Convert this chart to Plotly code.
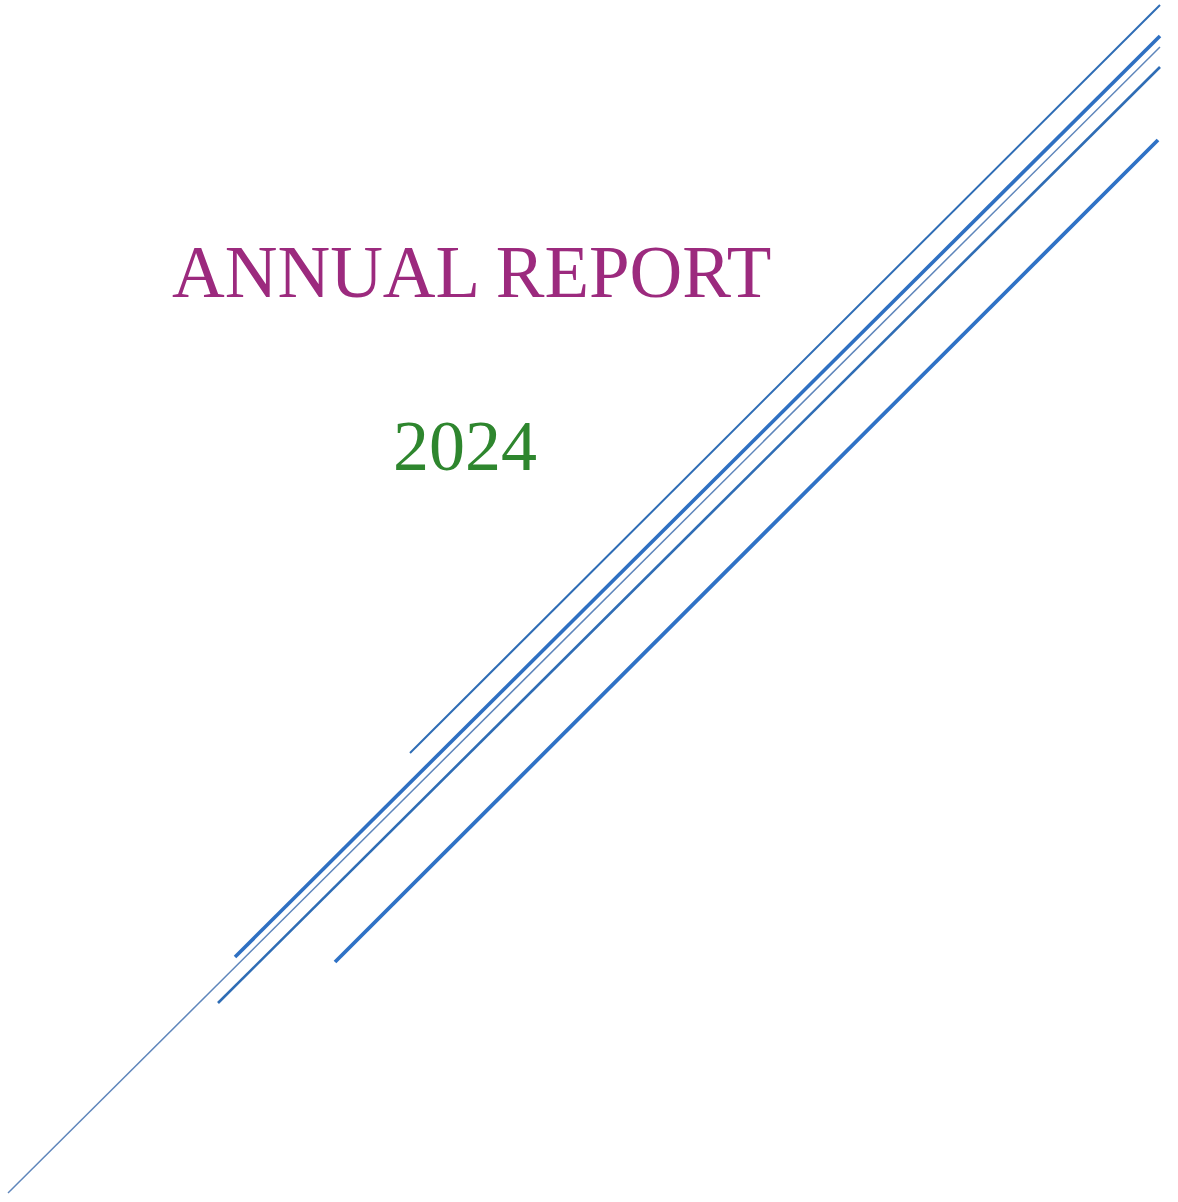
import plotly.graph_objects as go

# Diagonal rule lines (page pixel coordinates, y downward)
line_names = ["rule1", "rule2", "rule3", "rule4", "rule5"]
line_x0 = [410, 235, 8, 218, 335]
line_y0 = [753, 957, 1193, 1003, 962]
line_x1 = [1160, 1160, 1160, 1160, 1158]
line_y1 = [5, 36, 47, 67, 140]
line_widths = [2.0, 3.6, 1.5, 2.6, 3.8]
line_colors = ["#2f6db5", "#2f70c2", "#5f86bb", "#2f6db5", "#2f72c6"]

title_text = "ANNUAL REPORT"
year_text = "2024"

W, H = 1178, 1202

fig = go.Figure()
for i, name in enumerate(line_names):
    fig.add_trace(go.Scatter(
        x=[line_x0[i], line_x1[i]], y=[line_y0[i], line_y1[i]],
        mode="lines", name=name,
        line=dict(color=line_colors[i], width=line_widths[i]),
        hoverinfo="skip", showlegend=False,
    ))

fig.add_annotation(x=471, y=272, xref="x", yref="y", text=title_text,
                   showarrow=False, xanchor="center", yanchor="middle",
                   font=dict(family="Liberation Serif", size=73, color="#9c2a7e"))
fig.add_annotation(x=465, y=446, xref="x", yref="y", text=year_text,
                   showarrow=False, xanchor="center", yanchor="middle",
                   font=dict(family="Liberation Serif", size=72, color="#2e862e"))

fig.update_xaxes(range=[0, W], visible=False, showgrid=False, zeroline=False)
fig.update_yaxes(range=[H, 0], visible=False, showgrid=False, zeroline=False)
fig.update_layout(width=W, height=H, margin=dict(l=0, r=0, t=0, b=0),
                  paper_bgcolor="white", plot_bgcolor="white")

fig.write_html("out.html", config={"displayModeBar": False},
               post_script="document.body.style.margin='0';document.body.style.overflow='hidden';")
